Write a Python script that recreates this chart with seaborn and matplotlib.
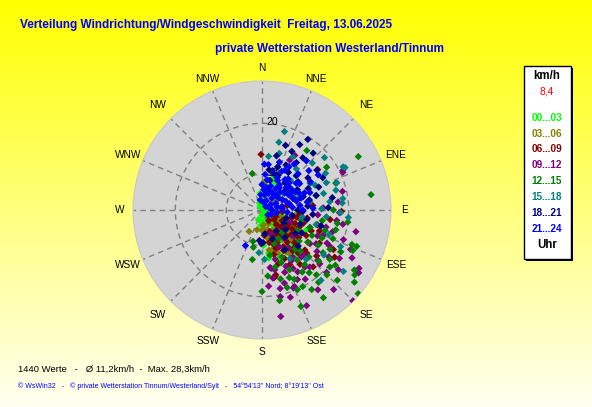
import numpy as np
import pandas as pd
import matplotlib
matplotlib.use('Agg')
import matplotlib.pyplot as plt
import seaborn as sns
from matplotlib.patches import Rectangle

# ---------------- data ----------------
groups = ['00...03', '03...06', '06...09', '09...12', '12...15', '15...18', '18...21', '21...24']
group_colors = ['#00FF00', '#808000', '#800000', '#800080', '#008000', '#008080', '#000080', '#0000FF']

# (direction in degrees, speed in km/h), per time slot
pts_00_03 = [(171, 11.7), (353, 6.3), (0, 3.3), (22, 9.7), (42, 10), (175, 5.3), (171, 11.5), (19, 9.6),
             (90, 3.5), (180, 4), (340, 4.5), (10, 5), (30, 7), (60, 6), (80, 8), (100, 5), (110, 9),
             (120, 7), (125, 11), (130, 5), (135, 8.5), (140, 12), (145, 6.5), (150, 10), (155, 7.5),
             (160, 11), (165, 5.5), (170, 8), (115, 12.5), (135, 4), (150, 4.5), (105, 7.5), (95, 10),
             (70, 10), (50, 8), (160, 13), (145, 14), (185, 6), (200, 5), (330, 3.8),
             (5, 8), (15, 6.5), (25, 9), (115, 6), (125, 8.5), (140, 9.5), (155, 9), (165, 9.5),
             (175, 7), (130, 10.5), (120, 10), (110, 6.5), (178, 10), (172, 12.5), (60, 9)]
pts_03_06 = [(211, 7.9), (194, 7), (6, 8.6), (100, 6), (105, 9), (110, 7), (115, 11), (120, 8), (125, 10),
             (130, 6.5), (130, 12), (135, 9), (140, 7.5), (140, 11), (145, 10), (150, 8), (150, 12.5),
             (155, 6), (155, 10), (160, 9), (165, 7), (165, 11), (170, 8.5), (175, 6), (125, 5), (145, 5),
             (135, 13), (120, 12), (160, 12), (115, 4.5), (145, 8.5), (138, 10.5), (152, 9.5), (128, 8),
             (170, 11), (180, 7), (100, 9.5), (90, 6), (80, 7), (60, 6),
             (112, 8.5), (118, 10), (123, 7), (127, 11), (132, 9.5), (137, 7), (142, 9), (147, 11.5),
             (153, 7.5), (158, 10.5), (162, 8), (168, 9.5), (172, 7), (148, 13), (133, 11)]
pts_06_09 = [(359, 13.9), (54, 16.5), (91, 18.6), (170, 16.5), (168, 16), (123, 20), (97, 10.4), (105, 14.3),
             (98, 16.5), (134, 15.2), (169, 16.3), (138, 12.7), (150, 11.3), (119, 19), (110, 8), (115, 11),
             (120, 13), (125, 9), (130, 10.5), (135, 7), (140, 9.5), (145, 12), (150, 8), (155, 10),
             (160, 7.5), (165, 12), (125, 14), (130, 17), (140, 14), (100, 12), (105, 9), (110, 15),
             (115, 6), (95, 7), (145, 16), (155, 13.5), (160, 11), (120, 16), (135, 12), (128, 6),
             (148, 5.5), (112, 10), (138, 18), (118, 7.5), (75, 10), (85, 13), (175, 8), (80, 8),
             (108, 11.5), (113, 13.5), (122, 10), (127, 12), (132, 8), (137, 10), (142, 11), (147, 9),
             (152, 12), (157, 8.5), (162, 10), (167, 9.5), (117, 9), (102, 10), (143, 13), (133, 14.5),
             (153, 15), (163, 14)]
pts_09_12 = [(170, 24.2), (135, 28.2), (121, 25.2), (171, 14.6), (157, 19.3), (64, 20.6), (29, 14.2),
             (31, 15.5), (168, 20.4), (167, 18.8), (158, 19.5), (145, 22.1), (155, 23.7), (123, 25.6),
             (122, 20.9), (114, 22), (103, 21.9), (100, 19.1), (107, 17.5), (117, 17.3), (140, 17.6),
             (153, 18.3), (172, 14.4), (171, 16.5), (132, 17.7), (134, 20.6), (65, 20.5), (77, 19.2),
             (84, 18), (92, 18.2), (98, 17.8), (110, 13), (115, 15), (120, 12), (125, 14.5), (130, 11),
             (135, 13), (140, 15), (145, 12), (150, 14.5), (155, 11), (160, 16), (165, 13), (110, 20),
             (128, 22), (138, 24), (148, 19), (162, 21), (118, 23), (105, 16), (95, 14), (88, 15),
             (100, 11), (130, 9), (142, 10), (150, 17), (175, 18), (112, 9), (160, 8), (125, 19),
             (112, 16), (118, 18), (122, 15.5), (127, 16.5), (133, 18.5), (137, 15), (143, 17), (147, 14),
             (152, 16), (157, 15), (163, 18), (168, 15)]
pts_12_15 = [(61, 24.6), (82, 24.6), (131, 28), (345, 10.4), (191, 12.9), (158, 23.4), (169, 21.1),
             (37, 17.6), (196, 9.4), (193, 10.5), (158, 17.3), (156, 20.1), (148, 21.4), (133, 23.2),
             (123, 24.6), (125, 25.2), (111, 21.9), (111, 22.9), (120, 18.4), (125, 17.6), (130, 20.4),
             (140, 19.6), (114, 22.5), (126, 19.4), (155, 15.9), (143, 18.4), (142, 16.6), (56.5, 18.2),
             (70, 18.4), (100, 15), (105, 18), (110, 13), (115, 16), (120, 11), (125, 14), (130, 12.5),
             (135, 16), (140, 13), (145, 15), (150, 12), (155, 18), (160, 14), (165, 17), (170, 12),
             (135, 21), (118, 20.5), (128, 26), (145, 24), (98, 20), (90, 17), (75, 14), (138, 9),
             (150, 9.5), (160, 10), (118, 8), (105, 11), (175, 16), (180, 19),
             (112, 18), (117, 14), (122, 16), (127, 21), (132, 18), (137, 14), (142, 21), (147, 17.5),
             (152, 20), (157, 13), (162, 19), (167, 14.5), (108, 16), (100, 18)]
pts_15_18 = [(16, 19), (14, 16.7), (7, 13.6), (42, 16), (47, 16.5), (62, 21), (92, 18.4), (82, 19),
             (70, 18.6), (184, 11.4), (177, 12.7), (127, 23), (126, 18), (105, 14), (96, 15.7), (2, 7.9),
             (54, 9.6), (17, 14.6), (60, 17.4), (63, 21.3), (75, 18), (67, 16.7), (83, 16.4), (85, 18.8),
             (61, 13.8), (71, 10.8), (57, 10.2), (89, 14.7), (35, 12), (45, 11), (25, 10), (80, 12.5),
             (100, 11), (110, 17), (115, 20), (138, 16), (150, 14), (30, 15), (50, 19), (65, 14.5),
             (75, 15.5), (95, 20), (140, 21), (40, 13.5), (20, 12)]
pts_18_21 = [(30, 17.8), (27, 15.9), (36, 14.5), (62, 16.5), (80, 17), (54, 16.3), (181, 9.6), (173, 7.7),
             (178, 9.4), (185, 9), (20, 12), (40, 10), (45, 12.5), (50, 9), (60, 11), (65, 13), (70, 9.5),
             (75, 14), (85, 12), (90, 10), (95, 13), (100, 9), (110, 11), (120, 8), (15, 14), (10, 11),
             (25, 10.5), (35, 12), (55, 14), (68, 15), (42, 18), (33, 19.5), (120, 12), (140, 10),
             (150, 12), (160, 9), (105, 15), (88, 16), (20, 16.5), (48, 7),
             (15, 9), (28, 13), (38, 16), (52, 12), (58, 10), (72, 11.5), (78, 12.5), (92, 11),
             (102, 12), (108, 8), (130, 9), (125, 11), (135, 13), (145, 8), (18, 7)]
pts_21_24 = [(5, 10), (10, 9), (15, 11), (20, 8), (25, 10), (30, 7), (30, 12), (35, 9), (40, 11), (40, 6),
             (45, 13), (45, 8), (50, 10), (50, 15), (55, 7), (55, 12), (60, 9), (60, 14), (65, 11), (65, 6),
             (70, 8), (70, 13), (75, 10), (80, 7), (80, 12), (85, 9), (90, 5), (90, 11), (20, 13), (10, 6),
             (0, 8), (355, 6), (350, 5), (35, 14), (58, 16), (25, 5), (95, 8), (100, 6), (48, 4), (72, 4.5),
             (15, 7), (62, 10.5), (38, 8.5), (52, 11.5), (28, 9.5), (205, 10.7), (115, 5), (130, 4.5),
             (8, 12), (42, 16),
             (12, 7.5), (18, 10.5), (22, 6.5), (27, 11.5), (33, 8), (37, 10.5), (43, 7), (47, 9.5),
             (53, 8.5), (57, 10), (63, 7.5), (67, 9.5), (73, 11), (77, 8.5), (83, 10.5), (87, 7),
             (5, 7), (3, 12), (32, 13), (68, 12), (12, 4.5), (58, 5), (78, 6), (88, 13), (45, 10.5)]

compass = ['N', 'NNE', 'NE', 'ENE', 'E', 'ESE', 'SE', 'SSE',
           'S', 'SSW', 'SW', 'WSW', 'W', 'WNW', 'NW', 'NNW']
ring_values = [10, 20]
n_values = 1440
mean_speed = '11,2'
max_speed = '28,3'
current_speed = '8,4'

# ---------------- build frame ----------------
all_pts = [pts_00_03, pts_03_06, pts_06_09, pts_09_12, pts_12_15, pts_15_18, pts_18_21, pts_21_24]
rows = []
for g, pts in zip(groups, all_pts):
    for d, s in pts:
        rows.append({'theta': np.radians(d), 'speed': s, 'slot': g})
df = pd.DataFrame(rows)

# ---------------- figure ----------------
W, H = 592, 407
plt.rcParams['font.family'] = ['Liberation Sans', 'DejaVu Sans']
fig = plt.figure(figsize=(W / 100, H / 100), dpi=100)

def fx(x):
    return x / W

def fy(y):
    return 1 - y / H

# background gradient
bg = fig.add_axes([0, 0, 1, 1])
grad = np.zeros((256, 1, 3))
t = np.linspace(0, 1, 256)
grad[:, 0, 0] = 1.0
grad[:, 0, 1] = 1.0
grad[:, 0, 2] = 0.0 + 0.95 * t
bg.imshow(grad, aspect='auto', extent=[0, 1, 0, 1], origin='upper')
bg.set_axis_off()

# polar axes
cx, cy, R = 262, 210, 129
ax = fig.add_axes([fx(cx - R), fy(cy + R), 2 * R / W, 2 * R / H], projection='polar')
ax.set_theta_zero_location('N')
ax.set_theta_direction(-1)
rmin, rmax = 3.0, 28.3
ax.set_ylim(rmin, rmax)
ax.set_facecolor('#D4D4D4')
ax.spines['polar'].set_color('#C8C8C8')
ax.set_xticks(np.radians(np.arange(0, 360, 22.5)))
ax.set_xticklabels([])
ax.set_yticks(ring_values)
ax.set_yticklabels([])
ax.grid(True, color='#808080', linestyle=(0, (4, 3)), linewidth=1)

sns.scatterplot(data=df, x='theta', y='speed', hue='slot', hue_order=groups,
                palette=dict(zip(groups, group_colors)), marker='D', s=14,
                linewidth=0, legend=False, ax=ax, zorder=3)
ax.set_xlabel('')
ax.set_ylabel('')

for rv in ring_values:
    ax.annotate(str(rv), xy=(0, rv), xytext=(3, 1), textcoords='offset points',
                ha='left', va='center', fontsize=7.5, color='black', zorder=10)

scale = (rmax - rmin) / R
for i, name in enumerate(compass):
    rp = 148 if name in ('NE', 'SE', 'SW', 'NW') else (145 if len(name) == 3 and name[0] in 'EW' else 142)
    ax.text(np.radians(i * 22.5), rmin + rp * scale, name, ha='center', va='center',
            fontsize=7.3, color='black', clip_on=False)

# titles
fig.text(fx(20), fy(25), 'Verteilung Windrichtung/Windgeschwindigkeit  Freitag, 13.06.2025',
         ha='left', va='center', fontsize=8.5, fontweight='bold', color='#0000FF')
fig.text(fx(215), fy(49), 'private Wetterstation Westerland/Tinnum',
         ha='left', va='center', fontsize=8.5, fontweight='bold', color='#0000FF')

# legend box
fig.patches.append(Rectangle((fx(526), fy(261)), 47 / W, 193 / H, transform=fig.transFigure,
                             facecolor='black', edgecolor='none', zorder=5))
fig.patches.append(Rectangle((fx(524), fy(259)), 47 / W, 193 / H, transform=fig.transFigure,
                             facecolor='white', edgecolor='black', linewidth=1, zorder=6))
fig.text(fx(547), fy(76), 'km/h', ha='center', va='center', fontsize=8.3, fontweight='bold',
         color='black', zorder=7)
fig.text(fx(547), fy(91), current_speed, ha='center', va='center', fontsize=7.3, color='#FF0000', zorder=7)
for i, (g, c) in enumerate(zip(groups, group_colors)):
    fig.text(fx(547), fy(117.7 + i * 15.9), g, ha='center', va='center', fontsize=7.2,
             fontweight='bold', color=c, zorder=7)
fig.text(fx(547), fy(245), 'Uhr', ha='center', va='center', fontsize=8.3, fontweight='bold',
         color='black', zorder=7)

# bottom texts
fig.text(fx(18), fy(369), f'{n_values} Werte   -   Ø {mean_speed}km/h  -  Max. {max_speed}km/h',
         ha='left', va='center', fontsize=6.8, color='black')
fig.text(fx(18), fy(386),
         "© WsWin32   -   © private Wetterstation Tinnum/Westerland/Sylt   -   54°54'13'' Nord; 8°19'13'' Ost",
         ha='left', va='center', fontsize=5, color='#0000FF')

fig.savefig('out.png', dpi=100)
